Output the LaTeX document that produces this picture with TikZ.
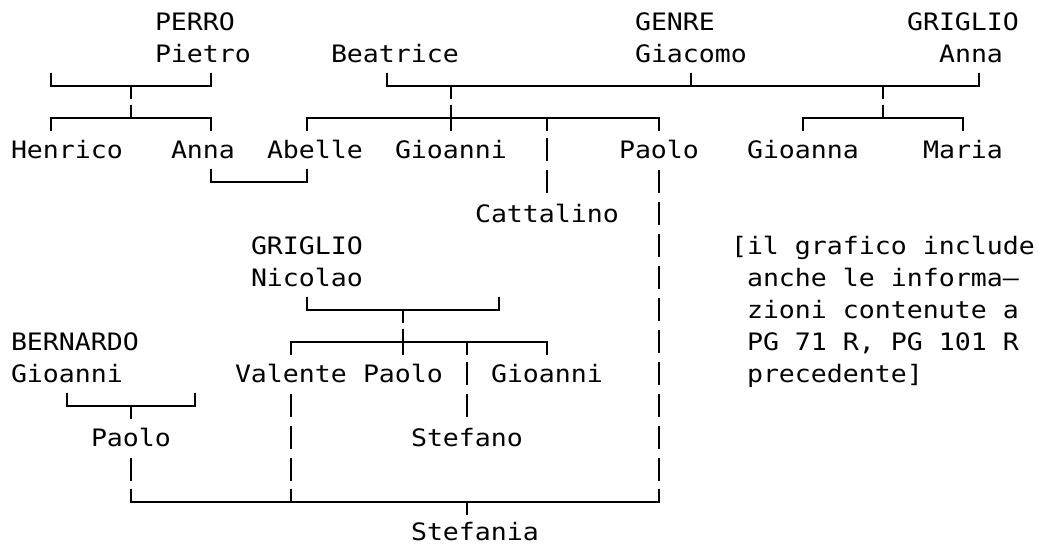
\documentclass[tikz,border=0pt]{standalone}
\usepackage{fontspec}
\newfontfamily\monof[FakeStretch=1.107]{DejaVu Sans Mono}
\tikzset{
  ln/.style={line width=2pt, line cap=butt, black},
  hl/.style={line width=2pt, line cap=rect, black},
  lbl/.style={anchor=base west, inner sep=0pt, outer sep=0pt, font=\monof\fontsize{24}{28}\selectfont},
}
% grid helpers: column c centre x = 16c+3, row r: top 8.7+32r, middle 22+32r, baseline 30.7+32r
\newcommand\hs[3]{\draw[hl] ({16*#1+3},{22+32*#3}) -- ({16*#2+3},{22+32*#3});}
\newcommand\up[2]{\draw[ln] ({16*#1+3},{8.7+32*#2}) -- ({16*#1+3},{22+32*#2});}
\newcommand\dn[2]{\draw[ln] ({16*#1+3},{22+32*#2}) -- ({16*#1+3},{35+32*#2});}
\newcommand\pp[2]{\draw[ln] ({16*#1+3},{9.7+32*#2}) -- ({16*#1+3},{32.7+32*#2});}
\newcommand\tx[4]{\node[lbl] (#1) at ({16*#2-5},{30.7+32*#3}) {#4};}
\begin{document}
\begin{tikzpicture}[x=1pt,y=-1pt]
\useasboundingbox (0,0) rectangle (1038,544);
\fill[white] (0,0) rectangle (1038,544);
% row 0
\tx{perro}{10}{0}{PERRO}
\tx{genre}{40}{0}{GENRE}
\tx{griglioA}{57}{0}{GRIGLIO}
% row 1
\tx{pietro}{10}{1}{Pietro}
\tx{beatrice}{21}{1}{Beatrice}
\tx{giacomo}{40}{1}{Giacomo}
\tx{annaG}{59}{1}{Anna}
% row 2
\hs{3}{13}{2} \up{3}{2} \up{13}{2} \dn{8}{2}
\hs{24}{61}{2} \up{24}{2} \up{61}{2} \up{43}{2} \dn{28}{2} \dn{55}{2}
% row 3
\hs{3}{13}{3} \up{8}{3} \dn{3}{3} \dn{13}{3}
\hs{19}{41}{3} \up{28}{3} \dn{19}{3} \dn{28}{3} \dn{34}{3} \dn{41}{3}
\hs{50}{60}{3} \up{55}{3} \dn{50}{3} \dn{60}{3}
% row 4
\tx{henrico}{1}{4}{Henrico}
\tx{annaP}{11}{4}{Anna}
\tx{abelle}{17}{4}{Abelle}
\tx{gioanniB}{25}{4}{Gioanni}
\pp{34}{4}
\tx{paoloB}{39}{4}{Paolo}
\tx{gioanna}{47}{4}{Gioanna}
\tx{maria}{58}{4}{Maria}
% row 5
\hs{13}{19}{5} \up{13}{5} \up{19}{5}
\pp{34}{5} \pp{41}{5}
% row 6
\tx{cattalino}{30}{6}{Cattalino}
\pp{41}{6}
% row 7
\tx{griglioN}{16}{7}{GRIGLIO}
\pp{41}{7}
\tx{note1}{46}{7}{[il grafico include}
% row 8
\tx{nicolao}{16}{8}{Nicolao}
\pp{41}{8}
\tx{note2}{47}{8}{anche le informa—}
% row 9
\hs{19}{31}{9} \up{19}{9} \up{31}{9} \dn{25}{9}
\pp{41}{9}
\tx{note3}{47}{9}{zioni contenute a}
% row 10
\tx{bernardo}{1}{10}{BERNARDO}
\hs{18}{34}{10} \up{25}{10} \dn{18}{10} \dn{25}{10} \dn{29}{10} \dn{34}{10}
\pp{41}{10}
\tx{note4}{47}{10}{PG 71 R, PG 101 R}
% row 11
\tx{gioanniBe}{1}{11}{Gioanni}
\tx{valente}{15}{11}{Valente}
\tx{paoloN}{23}{11}{Paolo}
\pp{29}{11}
\tx{gioanniN}{31}{11}{Gioanni}
\pp{41}{11}
\tx{note5}{47}{11}{precedente]}
% row 12
\hs{4}{12}{12} \up{4}{12} \up{12}{12} \dn{8}{12}
\pp{18}{12} \pp{29}{12} \pp{41}{12}
% row 13
\tx{paoloBe}{6}{13}{Paolo}
\pp{18}{13}
\tx{stefano}{26}{13}{Stefano}
\pp{41}{13}
% row 14
\pp{8}{14} \pp{18}{14} \pp{41}{14}
% row 15
\hs{8}{41}{15} \up{8}{15} \up{18}{15} \up{41}{15} \dn{29}{15}
% row 16 (baseline nudged up slightly to stay inside the page)
\node[lbl] (stefania) at ({16*26-5},540.5) {Stefania};
\end{tikzpicture}
\end{document}
